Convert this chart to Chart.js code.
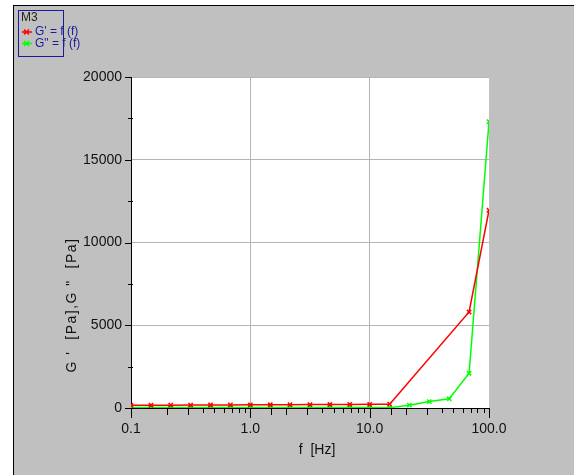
<!DOCTYPE html>
<html>
<head>
<meta charset="utf-8">
<script src="https://cdn.jsdelivr.net/npm/chart.js@4"></script>
<style>
  html, body { margin: 0; padding: 0; background: #fff; }
  #panel {
    position: absolute; left: 13px; top: 5px; width: 560px; height: 470px;
    background: #c0c0c0; border-left: 1px solid #000; border-top: 1px solid #000;
  }
  #chart { position: absolute; left: 0; top: 0; }
</style>
</head>
<body>
<div id="panel"></div>
<canvas id="chart" width="587" height="475"></canvas>
<script>
// frequency (Hz) and moduli (Pa)
const freqStorage = [0.1, 0.147, 0.215, 0.316, 0.464, 0.681, 1, 1.47, 2.15, 3.16, 4.64, 6.81, 10, 14.7, 68.1, 100];
const gStorage = [160, 165, 170, 175, 180, 185, 190, 195, 200, 205, 210, 215, 220, 230, 5800, 11950];

const freqLoss = [0.1, 0.147, 0.215, 0.316, 0.464, 0.681, 1, 1.47, 2.15, 3.16, 4.64, 6.81, 10, 14.7, 21.5, 31.6, 46.4, 68.1, 100];
const gLoss = [30, 30, 30, 30, 30, 30, 30, 30, 30, 30, 30, 30, 30, 20, 170, 390, 560, 2100, 17300];

const xMajor = [0.1, 1, 10, 100];
const xLabels = ["0.1", "1.0", "10.0", "100.0"];
const yLabels = [0, 5000, 10000, 15000, 20000];

const seriesNames = ["G' = f (f)", 'G" = f (f)'];
const FONT = "'Liberation Sans', Arial, sans-serif";

const toPoints = (xs, ys) => xs.map((x, i) => ({ x: x, y: ys[i] }));

const isMajor = v => xMajor.some(m => Math.abs(m - v) / m < 1e-6);

// white plot area
const plotBg = {
    id: "plotBg",
    beforeDraw(chart) {
        const { ctx, chartArea: a } = chart;
        ctx.save();
        ctx.fillStyle = "#fff";
        ctx.fillRect(a.left, a.top, a.right - a.left, a.bottom - a.top);
        ctx.restore();
    }
};

// tick marks, axis titles and legend box
const decorations = {
    id: "decorations",
    afterDraw(chart) {
        const { ctx, chartArea: a, scales } = chart;
        ctx.save();
        ctx.fillStyle = "#000";

        // x ticks: decades long, 2 and 3 medium, rest short
        const xs = scales.x;
        xs.ticks.forEach(t => {
            const v = Number(t.value);
            const lead = Math.round(v / Math.pow(10, Math.floor(Math.log10(v) + 1e-9)));
            let len = 5;
            if (isMajor(v)) len = 10;
            else if (lead === 2 || lead === 3) len = 7;
            const px = Math.round(xs.getPixelForValue(v));
            ctx.fillRect(px, a.bottom, 1, len);
        });

        // y ticks
        const ys = scales.y;
        ys.ticks.forEach(t => {
            const py = Math.round(ys.getPixelForValue(t.value));
            if (t.value % 5000 === 0) ctx.fillRect(a.left - 6, py, 6, 1);
            else ctx.fillRect(a.left - 3, py, 5, 1);
        });

        // axis titles
        ctx.fillStyle = "#111";
        ctx.font = "14px " + FONT;
        ctx.textAlign = "center";
        ctx.textBaseline = "middle";
        ctx.fillText("f  [Hz]", 317, 450);

        ctx.save();
        ctx.translate(72, 305);
        ctx.rotate(-Math.PI / 2);
        ctx.letterSpacing = "1.5px";
        ctx.fillText("G '  [Pa],G \"  [Pa]", 0, 0);
        ctx.restore();

        // legend
        ctx.strokeStyle = "#1a1a9a";
        ctx.lineWidth = 1;
        ctx.strokeRect(18.5, 10.5, 45, 46);
        ctx.font = "12px " + FONT;
        ctx.textAlign = "left";
        ctx.fillStyle = "#222";
        ctx.fillText("M3", 21, 18);
        const colors = ["#ff0000", "#00ff00"];
        seriesNames.forEach((name, i) => {
            const y = 32 + i * 11.5;
            ctx.strokeStyle = colors[i];
            ctx.lineWidth = 1.5;
            ctx.beginPath();
            ctx.moveTo(22, y); ctx.lineTo(32, y);
            ctx.moveTo(24, y - 2.5); ctx.lineTo(29, y + 2.5);
            ctx.moveTo(24, y + 2.5); ctx.lineTo(29, y - 2.5);
            ctx.stroke();
            ctx.fillStyle = "#1a1a9a";
            ctx.fillText(name, 35, y);
        });
        ctx.restore();
    }
};

new Chart(document.getElementById("chart"), {
    type: "line",
    data: {
        datasets: [
            {
                label: seriesNames[0],
                data: toPoints(freqStorage, gStorage),
                borderColor: "#ff0000",
                backgroundColor: "#ff0000",
                borderWidth: 1.5,
                pointStyle: "crossRot",
                pointRadius: 3,
                pointBorderWidth: 1.5
            },
            {
                label: seriesNames[1],
                data: toPoints(freqLoss, gLoss),
                borderColor: "#00ff00",
                backgroundColor: "#00ff00",
                borderWidth: 1.5,
                pointStyle: "crossRot",
                pointRadius: 3,
                pointBorderWidth: 1.5
            }
        ]
    },
    options: {
        responsive: false,
        animation: false,
        layout: { padding: { top: 77, right: 98, left: 0, bottom: 0 } },
        plugins: {
            legend: { display: false },
            tooltip: { enabled: false }
        },
        scales: {
            x: {
                type: "logarithmic",
                min: 0.1,
                max: 100,
                afterFit: s => { s.height = 67; },
                border: { display: true, color: "#000" },
                grid: {
                    drawTicks: false,
                    color: c => (c.tick && (c.tick.value === 1 || c.tick.value === 10)) ? "#b4b4b4" : "rgba(0,0,0,0)"
                },
                ticks: {
                    autoSkip: false,
                    maxRotation: 0,
                    padding: 13,
                    color: "#111",
                    font: { family: FONT, size: 14 },
                    callback: v => {
                        const i = xMajor.findIndex(m => Math.abs(m - v) / m < 1e-6);
                        return i >= 0 ? xLabels[i] : "";
                    }
                }
            },
            y: {
                min: 0,
                max: 20000,
                afterFit: s => { s.width = 131; },
                border: { display: true, color: "#000" },
                grid: {
                    drawTicks: false,
                    color: c => (c.tick && c.tick.value > 0 && c.tick.value % 5000 === 0) ? "#b4b4b4" : "rgba(0,0,0,0)"
                },
                ticks: {
                    stepSize: 2500,
                    padding: 9,
                    color: "#111",
                    font: { family: FONT, size: 14 },
                    callback: v => yLabels.includes(v) ? String(v) : ""
                }
            }
        }
    },
    plugins: [plotBg, decorations]
});
</script>
</body>
</html>
